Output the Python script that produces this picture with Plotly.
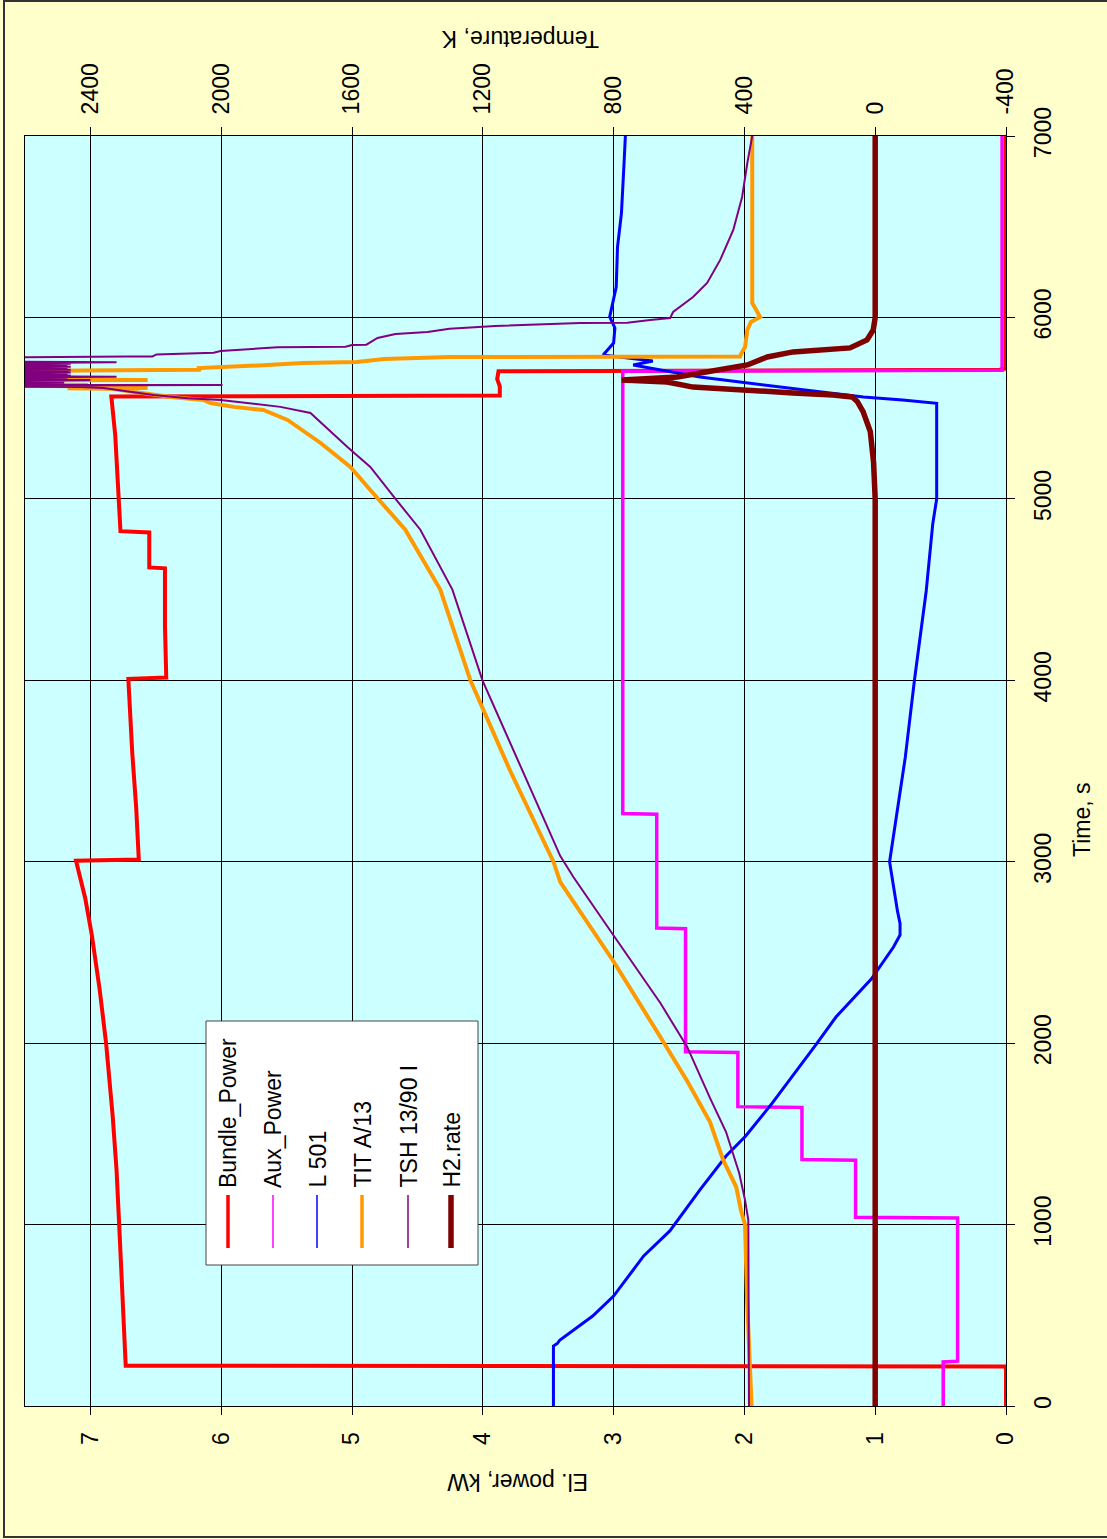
import plotly.graph_objects as go

# ---------------- data ----------------
# Bundle electrical power, kW
bundle_t = [0, 218, 222, 400, 700, 1000, 1300, 1600, 2000, 2300, 2600, 2800, 3005, 3012,
            3300, 3600, 4008, 4015, 4300, 4617, 4622, 4815, 4822, 5100, 5350, 5564, 5569,
            5620, 5660, 5703, 5712, 5718, 7000]
bundle_kw = [0.0, 0.0, 6.73, 6.74, 6.76, 6.78, 6.80, 6.83, 6.88, 6.93, 6.99, 7.04, 7.11, 6.63,
             6.65, 6.68, 6.71, 6.42, 6.43, 6.43, 6.55, 6.55, 6.77, 6.79, 6.81, 6.84, 3.87,
             3.87, 3.89, 3.88, 0.05, 0.0, 0.0]

# Auxiliary heater power, kW
aux_t = [0, 243, 247, 1036, 1040, 1354, 1358, 1646, 1650, 1949, 1953, 2631, 2635, 3262,
         3266, 5704, 5709, 7000]
aux_kw = [0.48, 0.48, 0.37, 0.37, 1.15, 1.15, 1.56, 1.56, 2.05, 2.05, 2.45, 2.45, 2.67, 2.67,
          2.93, 2.93, 0.03, 0.03]

# Level L 501
l501_t = [0, 330, 345, 364, 496, 606, 827, 965, 1191, 1378, 1488, 1676, 1995, 2144, 2353,
          2447, 2530, 2596, 2660, 2729, 2916, 3000, 3575, 4000, 4492, 4862, 5000, 5407, 5527,
          5545, 5562, 5605, 5638, 5672, 5710, 5738, 5760, 5793, 5859, 5942, 6003, 6096,
          6168, 6389, 6575, 6851, 7000]
l501_val = [3.46, 3.46, 3.43, 3.41, 3.16, 3.00, 2.77, 2.57, 2.34, 2.14, 1.99, 1.78, 1.45,
            1.30, 1.03, 0.94, 0.86, 0.81, 0.81, 0.83, 0.87, 0.89, 0.77, 0.70, 0.61, 0.56,
            0.53, 0.53, 0.53, 0.79, 1.09, 1.60, 1.96, 2.34, 2.64, 2.85, 2.70, 3.08, 3.00,
            2.99, 3.03, 3.00, 2.98, 2.97, 2.94, 2.92, 2.91]

# Thermocouple TIT A/13, K
tit_t = [0, 300, 600, 1000, 1075, 1207, 1356, 1565, 1791, 2034, 2453, 2888, 3000, 3500,
         4000, 4500, 4830, 5049, 5176, 5308, 5435, 5490, 5507, 5528, 5545, 5562, 5584,
         5605, 5609, 5611, 5614, 5620, 5625, 5628, 5632, 5653, 5655, 5657, 5659, 5700,
         5708, 5712, 5721, 5733, 5749, 5755, 5771, 5782, 5784, 5800, 5837, 5931, 5975,
         6003, 6080, 6482, 7000]
tit_K = [378, 386, 392, 398, 410, 425, 465, 505, 575, 657, 801, 963, 984, 1116,
         1238, 1330, 1437, 1544, 1605, 1696, 1797, 1871, 1962, 2033, 2054, 2155, 2256,
         2330, 2470, 2225, 2408, 2440, 2700, 2408, 2700, 2700, 2225, 2378, 2700, 2700,
         2430, 2063, 2066, 1913, 1751, 1586, 1501, 1302, 413, 410, 398, 391, 380,
         352, 376, 376, 376]

# Thermocouple TSH 13/90 I, K
tsh_t = [0, 300, 600, 1025, 1135, 1284, 1510, 1697, 1979, 2221, 2596, 2916, 3031, 3500,
         4000, 4500, 4830, 5000, 5176, 5286, 5473, 5507, 5545, 5554, 5573, 5611, 5616,
         5620, 5624, 5627, 5629, 5636, 5640, 5644, 5650, 5655, 5658, 5663, 5667, 5671,
         5673, 5676, 5680, 5684, 5688, 5692, 5696, 5700, 5704, 5708, 5712, 5716, 5720,
         5724, 5728, 5732, 5736, 5740, 5744, 5748, 5751, 5753, 5756, 5780, 5784, 5785,
         5796, 5805, 5815, 5835, 5838, 5848, 5850, 5887, 5909, 5920, 5937, 5948, 5953,
         5969, 5971, 5986, 5997, 6030, 6113, 6190, 6317, 6482, 6664, 6851, 7000]
tsh_K = [386, 387, 388, 388, 398, 416, 456, 505, 575, 657, 801, 923, 963, 1079,
         1201, 1293, 1391, 1467, 1544, 1614, 1727, 1819, 2002, 2103, 2207, 2360, 2430,
         2700, 2700, 1996, 2700, 2700, 2480, 2700, 2700, 2400, 2700, 2470, 2700, 2460,
         2320, 2700, 2460, 2700, 2470, 2700, 2460, 2700, 2465, 2700, 2460, 2700, 2470,
         2700, 2460, 2700, 2470, 2700, 2460, 2700, 2460, 2320, 2700, 2700, 2286, 2210,
         2198, 2023, 2002, 1828, 1620, 1600, 1556, 1522, 1467, 1369, 1302, 1174, 1162,
         902, 758, 688, 627, 618, 557, 514, 474, 434, 407, 391, 376]

# Hydrogen release rate (plotted on the temperature scale)
h2_t = [0, 5000, 5200, 5371, 5481, 5537, 5562, 5573, 5584, 5600, 5616, 5644, 5655, 5672,
        5721, 5738, 5782, 5810, 5832, 5876, 5931, 6000, 7000]
h2_val = [0, 0, 5, 15, 37, 55, 70, 129, 251, 382, 557, 636, 775, 605,
          430, 391, 330, 251, 77, 25, 6, 0, 0]

power_ticks = [0, 1, 2, 3, 4, 5, 6, 7]
temp_ticks = [-400, 0, 400, 800, 1200, 1600, 2000, 2400]
temp_labels = ["-400", "0", "400", "800", "1200", "1600", "2000", "2400"]
time_ticks = [0, 1000, 2000, 3000, 4000, 5000, 6000, 7000]

legend_names = ["Bundle_Power", "Aux_Power", "L 501", "TIT A/13", "TSH 13/90 I", "H2.rate"]
colors = ["#FF0000", "#FF00FF", "#0000FF", "#FF9900", "#800080", "#800000"]
legend_widths = [3.5, 1.5, 1.5, 3.5, 1.5, 5.5]

# ---------------- layout geometry ----------------
W, H = 1107, 1539
ML, MR, MT, MB = 25, 101, 136, 133
PW = W - ML - MR
PH = H - MT - MB
FONT = "Liberation Sans, Arial, sans-serif"
FS = 23


def fx(px):
    return (px - ML) / PW


def fy(py):
    return (H - MB - py) / PH


fig = go.Figure()

fig.add_trace(go.Scatter(x=bundle_kw, y=bundle_t, xaxis="x", yaxis="y", mode="lines",
                         line=dict(color=colors[0], width=4), name=legend_names[0]))
fig.add_trace(go.Scatter(x=aux_kw, y=aux_t, xaxis="x", yaxis="y", mode="lines",
                         line=dict(color=colors[1], width=3.5), name=legend_names[1]))
fig.add_trace(go.Scatter(x=l501_val, y=l501_t, xaxis="x", yaxis="y", mode="lines",
                         line=dict(color=colors[2], width=3), name=legend_names[2]))
fig.add_trace(go.Scatter(x=tit_K, y=tit_t, xaxis="x2", yaxis="y", mode="lines",
                         line=dict(color=colors[3], width=4), name=legend_names[3]))
fig.add_trace(go.Scatter(x=tsh_K, y=tsh_t, xaxis="x2", yaxis="y", mode="lines",
                         line=dict(color=colors[4], width=2), name=legend_names[4]))
fig.add_trace(go.Scatter(x=h2_val, y=h2_t, xaxis="x2", yaxis="y", mode="lines",
                         line=dict(color=colors[5], width=5.5), name=legend_names[5]))

tickfont = dict(family=FONT, size=FS, color="black")

shapes = [
    # outer frame
    dict(type="rect", xref="paper", yref="paper", x0=fx(4), x1=fx(1115), y0=fy(1537), y1=fy(1),
         line=dict(color="#333333", width=2), fillcolor="rgba(0,0,0,0)", layer="above"),
    # legend box
    dict(type="rect", xref="paper", yref="paper", x0=fx(206), x1=fx(478), y0=fy(1265), y1=fy(1021),
         line=dict(color="#444444", width=1), fillcolor="white", layer="above"),
]
annotations = []
legend_x = [228, 273, 317, 362, 408, 451]
for name, col, lw, cx in zip(legend_names, colors, legend_widths, legend_x):
    shapes.append(dict(type="line", xref="paper", yref="paper", x0=fx(cx), x1=fx(cx),
                       y0=fy(1248), y1=fy(1195), line=dict(color=col, width=lw), layer="above"))
    annotations.append(dict(text=name, xref="paper", yref="paper", x=fx(cx), y=fy(1190),
                            xanchor="center", yanchor="bottom", textangle=-90, showarrow=False,
                            font=dict(family=FONT, size=FS, color="black")))

annotations += [
    dict(text="El. power, kW", xref="paper", yref="paper", x=fx(518), y=fy(1482),
         xanchor="center", yanchor="middle", textangle=180, showarrow=False,
         font=dict(family=FONT, size=FS, color="black")),
    dict(text="Temperature, K", xref="paper", yref="paper", x=fx(520), y=fy(39),
         xanchor="center", yanchor="middle", textangle=180, showarrow=False,
         font=dict(family=FONT, size=FS, color="black")),
    dict(text="Time, s", xref="paper", yref="paper", x=fx(1082), y=fy(820),
         xanchor="center", yanchor="middle", textangle=-90, showarrow=False,
         font=dict(family=FONT, size=FS, color="black")),
]

fig.update_layout(
    width=W, height=H,
    margin=dict(l=ML, r=MR, t=MT, b=MB, pad=0),
    paper_bgcolor="#FFFFCC",
    plot_bgcolor="#CCFFFF",
    showlegend=False,
    xaxis=dict(range=[7.5, 0], tickvals=power_ticks, tickangle=-90, ticks="outside", ticklen=8,
               tickcolor="black", showgrid=True, gridcolor="black", gridwidth=1, showline=True,
               linecolor="black", linewidth=1, mirror=True, zeroline=False, tickfont=tickfont,
               ticklabelstandoff=8),
    xaxis2=dict(range=[2600, -400], tickvals=temp_ticks, ticktext=temp_labels, tickangle=-90,
                ticks="outside", ticklen=8, tickcolor="black", overlaying="x", side="top",
                anchor="y", showgrid=False, zeroline=False, showline=False, tickfont=tickfont,
                ticklabelstandoff=8),
    yaxis=dict(range=[0, 7000], tickvals=time_ticks, tickangle=-90, ticks="outside", ticklen=8,
               tickcolor="black", side="right", showgrid=True, gridcolor="black", gridwidth=1,
               showline=True, linecolor="black", linewidth=1, mirror=True, zeroline=False,
               tickfont=tickfont, ticklabelstandoff=8),
    shapes=shapes,
    annotations=annotations,
)

fig.write_html("out.html")
